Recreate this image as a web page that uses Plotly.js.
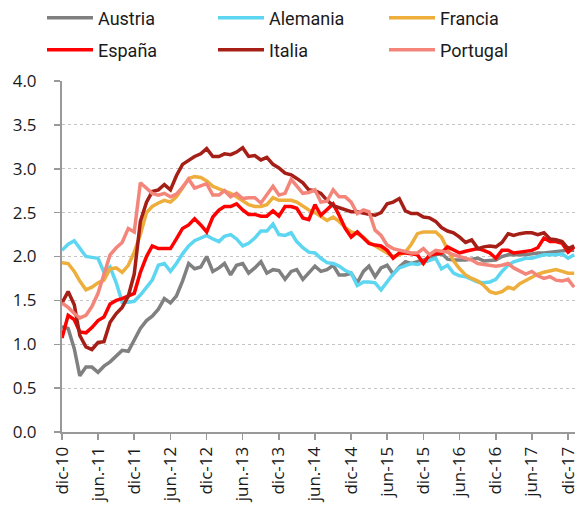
<!DOCTYPE html>
<html>
<head>
<meta charset="utf-8">
<script src="https://cdn.plot.ly/plotly-3.0.1.min.js"></script>
<style>
  html, body { margin: 0; padding: 0; background: #fff; }
  #chart { width: 575px; height: 515px; }
</style>
</head>
<body>
<div id="chart"></div>
<script>
// Monthly series, dic-10 .. ene-18
const startYear = 2010, startMonth = 12, nMonths = 86;

const austria = [1.20,1.18,0.95,0.64,0.74,0.74,0.68,0.75,0.80,0.86,
0.93,0.92,1.05,1.18,1.27,1.32,1.40,1.52,1.47,1.55,
1.72,1.92,1.86,1.88,2.00,1.83,1.87,1.92,1.79,1.90,
1.92,1.81,1.87,1.94,1.81,1.85,1.84,1.74,1.83,1.85,
1.74,1.81,1.89,1.83,1.85,1.90,1.79,1.79,1.81,1.70,
1.83,1.89,1.77,1.87,1.90,1.80,1.88,1.94,1.92,1.94,
1.96,1.98,2.02,2.04,1.97,1.96,1.96,1.96,1.97,1.98,
1.95,1.96,1.96,2.00,2.02,2.02,2.02,2.02,2.03,2.04,
2.04,2.05,2.05,2.06,2.07,2.07];

const alemania = [2.07,2.14,2.18,2.10,2.00,1.99,1.98,1.82,1.88,1.70,
1.48,1.48,1.49,1.56,1.64,1.73,1.90,1.92,1.83,1.92,
2.03,2.12,2.18,2.21,2.24,2.20,2.17,2.23,2.25,2.20,
2.12,2.15,2.21,2.29,2.29,2.37,2.25,2.24,2.27,2.17,
2.10,2.05,2.04,1.98,1.93,1.92,1.89,1.84,1.81,1.67,
1.71,1.71,1.70,1.62,1.72,1.80,1.87,1.90,1.92,1.91,
1.93,1.95,1.98,1.86,1.90,1.81,1.78,1.77,1.74,1.71,
1.70,1.71,1.74,1.83,1.90,1.94,1.96,1.98,1.98,2.00,
2.02,2.02,2.02,2.03,1.98,2.02];

const francia = [1.93,1.92,1.83,1.72,1.62,1.65,1.70,1.73,1.86,1.87,
1.82,1.90,2.05,2.25,2.50,2.57,2.61,2.64,2.62,2.68,
2.78,2.89,2.91,2.90,2.86,2.80,2.77,2.75,2.72,2.68,
2.63,2.59,2.57,2.57,2.59,2.67,2.64,2.64,2.64,2.62,
2.57,2.53,2.50,2.45,2.41,2.45,2.40,2.33,2.28,2.26,
2.22,2.16,2.12,2.08,2.03,2.00,2.02,2.05,2.14,2.26,
2.28,2.28,2.28,2.22,2.08,1.95,1.86,1.79,1.75,1.72,
1.67,1.60,1.58,1.60,1.65,1.63,1.69,1.73,1.77,1.80,
1.82,1.84,1.85,1.83,1.81,1.81];

const espana = [1.07,1.33,1.28,1.14,1.13,1.19,1.27,1.31,1.46,1.50,
1.52,1.55,1.58,1.82,2.00,2.12,2.09,2.09,2.09,2.20,
2.32,2.36,2.43,2.36,2.28,2.45,2.53,2.57,2.57,2.60,
2.53,2.48,2.48,2.46,2.46,2.52,2.46,2.57,2.57,2.55,
2.44,2.42,2.59,2.47,2.53,2.60,2.47,2.32,2.22,2.28,
2.21,2.15,2.13,2.12,2.07,1.98,2.04,2.04,2.03,2.02,
1.92,2.02,2.03,2.04,2.11,2.08,2.04,2.06,2.08,2.09,
2.07,2.04,1.98,2.07,2.07,2.04,2.05,2.06,2.07,2.10,
2.21,2.17,2.17,2.15,2.05,2.11];

const italia = [1.47,1.60,1.45,1.10,0.97,0.94,1.02,1.03,1.25,1.35,
1.42,1.55,1.80,2.40,2.62,2.74,2.76,2.82,2.76,2.92,
3.05,3.10,3.14,3.17,3.23,3.14,3.14,3.17,3.16,3.19,
3.24,3.14,3.15,3.10,3.13,3.05,3.01,2.95,2.93,2.89,
2.84,2.76,2.75,2.72,2.64,2.58,2.56,2.53,2.51,2.51,
2.49,2.48,2.47,2.50,2.60,2.62,2.66,2.52,2.49,2.49,
2.45,2.44,2.40,2.33,2.29,2.27,2.22,2.16,2.19,2.09,
2.11,2.12,2.11,2.16,2.26,2.24,2.26,2.27,2.27,2.25,
2.27,2.20,2.19,2.17,2.09,2.12];

const portugal = [1.47,1.42,1.35,1.30,1.33,1.43,1.58,1.80,2.02,2.10,
2.16,2.32,2.28,2.84,2.78,2.72,2.70,2.72,2.68,2.71,
2.79,2.88,2.78,2.81,2.83,2.70,2.70,2.75,2.68,2.72,
2.66,2.67,2.67,2.61,2.70,2.80,2.70,2.72,2.88,2.80,
2.72,2.73,2.76,2.62,2.63,2.76,2.68,2.68,2.62,2.49,
2.53,2.51,2.30,2.24,2.13,2.09,2.07,2.06,2.04,2.04,
2.09,2.02,2.07,2.06,2.05,2.02,2.00,1.99,1.96,1.92,
1.91,1.90,1.89,1.90,1.92,1.87,1.83,1.80,1.83,1.78,
1.75,1.77,1.73,1.72,1.74,1.65];

const seriesNames = ["Austria", "Alemania", "Francia", "España", "Italia", "Portugal"];
const tickText = ["dic-10","jun.-11","dic-11","jun.-12","dic-12","jun.-13","dic-13",
                  "jun.-14","dic-14","jun-15","dic-15","jun-16","dic-16","jun-17","dic-17"];

function monthDate(i) {
  const total = (startMonth - 1) + i;
  const y = startYear + Math.floor(total / 12);
  const m = (total % 12) + 1;
  return y + "-" + String(m).padStart(2, "0") + "-01";
}
const dates = [];
for (let i = 0; i < nMonths; i++) dates.push(monthDate(i));
const tickVals = tickText.map((_, k) => monthDate(k * 6));

const colors = ["#808080", "#5dd6f2", "#eeae3c", "#ff0000", "#a51f17", "#f4857a"];
const values = [austria, alemania, francia, espana, italia, portugal];

const traces = values.map((v, k) => ({
  x: dates, y: v, name: seriesNames[k], type: "scatter", mode: "lines",
  legend: k < 3 ? "legend" : "legend2",
  line: { color: colors[k], width: 3.5 }
}));

const legendFont = { family: "Roboto, sans-serif", size: 18, color: "#1a1a1a" };
const legendBase = {
  orientation: "h", xref: "paper", yref: "paper",
  x: -0.039, xanchor: "left", yanchor: "middle",
  entrywidth: 110, entrywidthmode: "pixels",
  itemwidth: 46, font: legendFont, bgcolor: "rgba(0,0,0,0)", traceorder: "normal"
};

const layout = {
  width: 575, height: 515,
  margin: { l: 62, r: 0, t: 81, b: 83, autoexpand: false },
  paper_bgcolor: "#fff", plot_bgcolor: "#fff",
  showlegend: true,
  legend: Object.assign({}, legendBase, { y: 1 + 63 / 351 }),
  legend2: Object.assign({}, legendBase, { y: 1 + 31 / 351 }),
  xaxis: {
    type: "date",
    range: ["2010-12-01", "2018-01-05"],
    tickvals: tickVals, ticktext: tickText,
    tickangle: -90, ticklabeloverflow: "allow",
    showgrid: false, zeroline: false,
    showline: true, linecolor: "#999", linewidth: 2,
    ticks: "outside", ticklen: 6, tickwidth: 1.5, tickcolor: "#999",
    tickfont: { family: "Open Sans, sans-serif", size: 17, color: "#1a1a1a" }
  },
  yaxis: {
    range: [0, 4], dtick: 0.5, tick0: 0, tickformat: ".1f",
    showgrid: true, gridcolor: "#c4c4c4", gridwidth: 1, griddash: "dot",
    zeroline: false,
    showline: true, linecolor: "#999", linewidth: 2,
    ticks: "outside", ticklen: 6, tickwidth: 1.5, tickcolor: "#999",
    ticklabelstandoff: 14,
    tickfont: { family: "Open Sans, sans-serif", size: 17, color: "#1a1a1a" }
  }
};

Plotly.newPlot("chart", traces, layout, { displayModeBar: false, staticPlot: true });
</script>
</body>
</html>
